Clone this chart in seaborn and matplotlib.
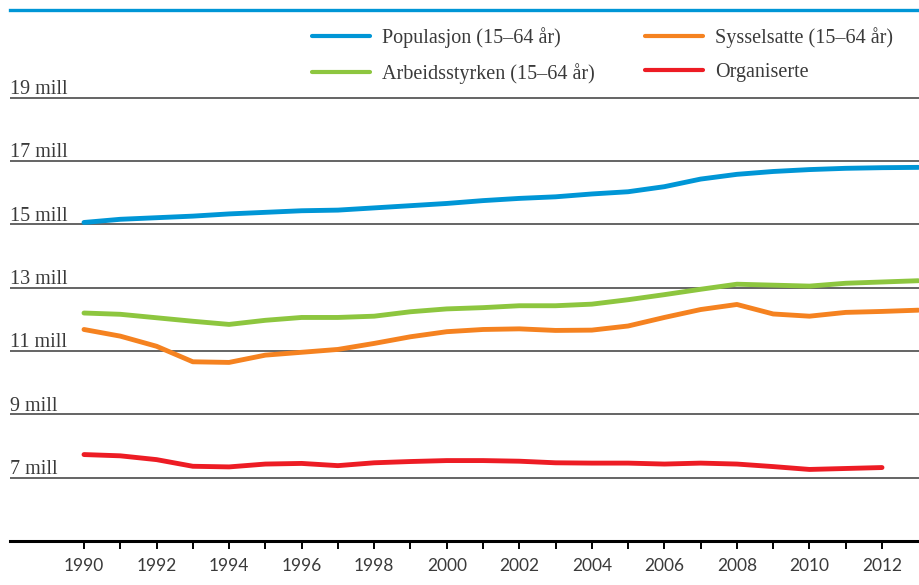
import numpy as np
import pandas as pd
import matplotlib
matplotlib.use("Agg")
import matplotlib.pyplot as plt
import seaborn as sns


OUTPUT_FILE = "out.png"

# Values (millions)
YEARS = list(range(1990, 2014))
POPULASJON = [15.06, 15.16, 15.21, 15.26, 15.33, 15.38, 15.43, 15.45, 15.52, 15.59,
              15.66, 15.75, 15.82, 15.87, 15.96, 16.03, 16.19, 16.43, 16.58, 16.67,
              16.73, 16.77, 16.79, 16.80]
ARBEIDSSTYRKEN = [12.20, 12.16, 12.05, 11.94, 11.84, 11.97, 12.06, 12.06, 12.10, 12.24,
                  12.33, 12.37, 12.43, 12.43, 12.48, 12.62, 12.78, 12.95, 13.11, 13.08,
                  13.05, 13.14, 13.18, 13.22]
SYSSELSATTE = [11.68, 11.47, 11.15, 10.66, 10.64, 10.87, 10.96, 11.05, 11.24, 11.45,
               11.61, 11.68, 11.70, 11.65, 11.66, 11.79, 12.06, 12.31, 12.47, 12.17,
               12.10, 12.22, 12.25, 12.29]
ORGANISERTE_YEARS = list(range(1990, 2013))
ORGANISERTE = [7.73, 7.69, 7.57, 7.36, 7.34, 7.43, 7.45, 7.38, 7.47, 7.51,
               7.54, 7.54, 7.52, 7.47, 7.46, 7.46, 7.43, 7.46, 7.43, 7.35,
               7.26, 7.29, 7.32]

Y_TICKS = [7, 9, 11, 13, 15, 17, 19]
SERIES = ["Populasjon (15–64 år)", "Arbeidsstyrken (15–64 år)",
          "Sysselsatte (15–64 år)", "Organiserte"]
COLORS = ["#0096d6", "#8dc63f", "#f58220", "#ed1c24"]


def build_frame() -> pd.DataFrame:
    parts = [
        pd.DataFrame({"year": YEARS, "value": POPULASJON, "series": SERIES[0]}),
        pd.DataFrame({"year": YEARS, "value": ARBEIDSSTYRKEN, "series": SERIES[1]}),
        pd.DataFrame({"year": YEARS, "value": SYSSELSATTE, "series": SERIES[2]}),
        pd.DataFrame({"year": ORGANISERTE_YEARS, "value": ORGANISERTE, "series": SERIES[3]}),
    ]
    return pd.concat(parts, ignore_index=True)


def make_chart(df: pd.DataFrame) -> None:
    sns.set_style("white")
    serif = ["Liberation Serif", "DejaVu Serif"]

    fig = plt.figure(figsize=(9.19, 5.85), dpi=100)
    ax = fig.add_axes([10 / 919, 44 / 585, 909 / 919, 531 / 585])

    sns.lineplot(data=df, x="year", y="value", hue="series", hue_order=SERIES,
                 palette=COLORS, linewidth=3.5, ax=ax, legend=True)

    ax.set_xlim(1987.96, 2013.02)
    ax.set_ylim(5, 21.77)

    # gridlines and y labels sitting on top of them
    ax.set_yticks(Y_TICKS)
    ax.set_yticklabels([])
    ax.tick_params(axis="y", length=0)
    ax.grid(axis="y", color="#3a3a3a", linewidth=1.1)
    ax.grid(axis="x", visible=False)
    for v in Y_TICKS:
        ax.text(0.0, v + 0.12, f"{v} mill", transform=ax.get_yaxis_transform(),
                ha="left", va="baseline", fontsize=14.5, family=serif, color="#3a3a3a")

    # x axis: tick every year, label every other year
    ax.set_xticks(YEARS[:-1])
    ax.set_xticklabels([str(y) if y % 2 == 0 else "" for y in YEARS[:-1]],
                       fontsize=12.5, family="Lato", color="#3a3a3a")
    ax.tick_params(axis="x", direction="out", length=6, width=1.4, color="black",
                   pad=6, bottom=True)

    ax.set_xlabel("")
    ax.set_ylabel("")
    for side in ["left", "right"]:
        ax.spines[side].set_visible(False)
    ax.spines["bottom"].set_color("black")
    ax.spines["bottom"].set_linewidth(2.2)
    ax.spines["top"].set_color("#0096d6")
    ax.spines["top"].set_linewidth(2.4)

    handles, labels = ax.get_legend_handles_labels()
    leg = ax.legend(handles, labels, ncol=2, frameon=False, loc="upper left",
                    bbox_to_anchor=(312 / 919, 1 - 27 / 585), bbox_transform=fig.transFigure,
                    prop={"family": serif, "size": 14.5}, handlelength=2.9,
                    handletextpad=0.6, columnspacing=2.45, labelspacing=0.75, borderpad=0,
                    borderaxespad=0)
    for line in leg.get_lines():
        line.set_linewidth(3.0)
    for t in leg.get_texts():
        t.set_color("#3a3a3a")

    fig.savefig(OUTPUT_FILE, dpi=100)


if __name__ == "__main__":
    make_chart(build_frame())
